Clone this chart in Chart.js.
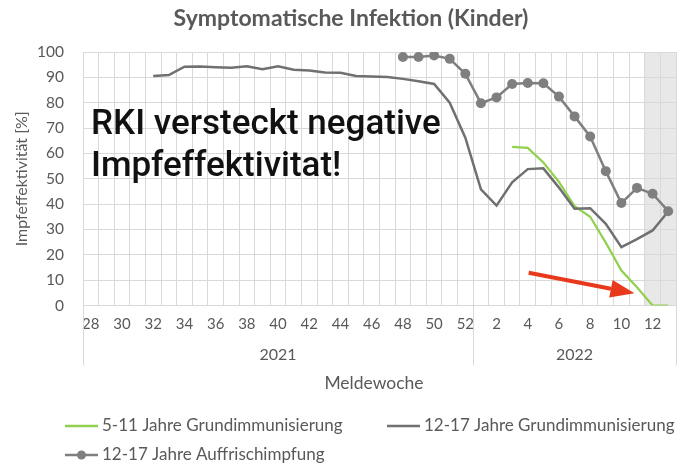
<!DOCTYPE html>
<html>
<head>
<meta charset="utf-8">
<script src="https://cdn.jsdelivr.net/npm/chart.js@4.4.0/dist/chart.umd.min.js"></script>
<style>
  html, body { margin: 0; padding: 0; background: #fff; }
  #wrap { width: 681px; height: 464px; position: relative; }
</style>
</head>
<body>
<div id="wrap"><canvas id="chart"></canvas></div>
<script>
// Meldewochen: 28-52 (2021), 1-13 (2022)
const weeks = [28, 29, 30, 31, 32, 33, 34, 35, 36, 37, 38, 39, 40, 41, 42, 43, 44, 45, 46, 47, 48, 49, 50, 51, 52,
               1, 2, 3, 4, 5, 6, 7, 8, 9, 10, 11, 12, 13];
const years = ['2021', '2022'];
const weeksPerYear = [25, 13];

const kids511Basic = [null, null, null, null, null, null, null, null, null, null, null, null, null, null, null, null, null, null, null, null, null, null, null, null, null,
                      null, null, 62.6, 62.2, 56.4, 48.8, 39.2, 35.0, 24.8, 13.8, 7.2, 0, 0];
const teens1217Basic = [null, null, null, null, 90.5, 90.9, 94.2, 94.3, 94.0, 93.8, 94.4, 93.2, 94.4, 93.0, 92.7, 91.9, 91.8, 90.5, 90.3, 90.1, 89.4, 88.5, 87.4, 80.0, 66.2,
                        45.8, 39.4, 48.6, 53.8, 54.1, 46.5, 38.2, 38.4, 32.2, 23.0, 26.2, 29.6, 37.1];
const teens1217Booster = [null, null, null, null, null, null, null, null, null, null, null, null, null, null, null, null, null, null, null, null, 98.0, 98.0, 98.6, 97.3, 91.4,
                          79.8, 82.1, 87.4, 87.8, 87.7, 82.4, 74.6, 66.7, 53.0, 40.4, 46.4, 44.1, 37.2];

const seriesNames = ['5-11 Jahre Grundimmunisierung', '12-17 Jahre Grundimmunisierung', '12-17 Jahre Auffrischimpfung'];
const yMin = 0, yMax = 100, yStep = 10;

const chartTitle = 'Symptomatische Infektion (Kinder)';
const yTitle = 'Impfeffektivität [%]';
const xTitle = 'Meldewoche';
const headline = ['RKI versteckt negative', 'Impfeffektivitat!'];

// shaded (incomplete) weeks, as category indices
const shadedFrom = 36, shadedTo = 37;
// red arrow in data space: [category index, value]
const arrowTail = [28.06, 12.9];
const arrowTip = [34.84, 4.8];

const TEXT = '#595959';
const GRID = '#d9d9d9';
const FONT = 'Lato, "Noto Sans", sans-serif';
const GREEN = '#92d050';
const DARK = '#707070';
const BOOST = '#7f7f7f';

const decor = {
  id: 'decor',
  beforeDraw(chart) {
    const { ctx, chartArea: a, scales: { x } } = chart;
    const half = (x.getPixelForValue(1) - x.getPixelForValue(0)) / 2;
    const x0 = x.getPixelForValue(shadedFrom) - half;
    const x1 = x.getPixelForValue(shadedTo) + half;
    ctx.save();
    ctx.fillStyle = '#e8e8e8';
    ctx.fillRect(x0, a.top, x1 - x0, a.bottom - a.top);
    ctx.restore();
  },
  afterDraw(chart) {
    const { ctx, chartArea: a, scales: { x, y } } = chart;
    const half = (x.getPixelForValue(1) - x.getPixelForValue(0)) / 2;
    ctx.save();

    // title
    ctx.fillStyle = TEXT;
    ctx.font = 'bold 23px ' + FONT;
    ctx.textAlign = 'center';
    ctx.textBaseline = 'middle';
    ctx.fillText(chartTitle, 351, 19);

    // year group labels + separators
    ctx.strokeStyle = GRID;
    ctx.lineWidth = 1;
    let start = 0;
    const edges = [x.getPixelForValue(0) - half];
    weeksPerYear.forEach((n, i) => {
      const l = x.getPixelForValue(start) - half;
      const r = x.getPixelForValue(start + n - 1) + half;
      edges.push(r);
      ctx.font = '16px ' + FONT;
      ctx.fillStyle = TEXT;
      ctx.fillText(years[i], (l + r) / 2, a.bottom + 49);
      start += n;
    });
    edges.forEach(e => {
      const px = Math.round(e) + 0.5;
      ctx.beginPath();
      ctx.moveTo(px, a.bottom);
      ctx.lineTo(px, a.bottom + 60);
      ctx.stroke();
    });

    // x axis title
    ctx.font = '17.5px ' + FONT;
    ctx.fillText(xTitle, 374, 383);

    // legend
    const items = [
      { name: seriesNames[0], color: GREEN, dot: false, lx: 65, ly: 426 },
      { name: seriesNames[1], color: DARK, dot: false, lx: 387, ly: 426 },
      { name: seriesNames[2], color: BOOST, dot: true, lx: 65, ly: 455 }
    ];
    ctx.textAlign = 'left';
    ctx.font = '17px ' + FONT;
    items.forEach(it => {
      ctx.strokeStyle = it.color;
      ctx.lineWidth = 2.5;
      ctx.beginPath();
      ctx.moveTo(it.lx, it.ly);
      ctx.lineTo(it.lx + 33, it.ly);
      ctx.stroke();
      if (it.dot) {
        ctx.fillStyle = it.color;
        ctx.beginPath();
        ctx.arc(it.lx + 16.5, it.ly, 4.5, 0, Math.PI * 2);
        ctx.fill();
      }
      ctx.fillStyle = TEXT;
      ctx.fillText(it.name, it.lx + 37, it.ly);
    });

    // headline
    ctx.fillStyle = '#111';
    ctx.font = '500 35px Roboto, "Liberation Sans", sans-serif';
    ctx.textBaseline = 'alphabetic';
    ctx.fillText(headline[0], 91, 134);
    ctx.fillText(headline[1], 91, 176);

    // red arrow
    const tx = x.getPixelForValue(arrowTail[0]), ty = y.getPixelForValue(arrowTail[1]);
    const hx = x.getPixelForValue(arrowTip[0]), hy = y.getPixelForValue(arrowTip[1]);
    const ang = Math.atan2(hy - ty, hx - tx);
    const headLen = 24, headW = 9;
    const bx = hx - headLen * Math.cos(ang), by = hy - headLen * Math.sin(ang);
    ctx.strokeStyle = '#e8391d';
    ctx.fillStyle = '#e8391d';
    ctx.lineWidth = 4;
    ctx.beginPath();
    ctx.moveTo(tx, ty);
    ctx.lineTo(bx, by);
    ctx.stroke();
    ctx.beginPath();
    ctx.moveTo(hx, hy);
    ctx.lineTo(bx + headW * Math.sin(ang), by - headW * Math.cos(ang));
    ctx.lineTo(bx - headW * Math.sin(ang), by + headW * Math.cos(ang));
    ctx.closePath();
    ctx.fill();

    ctx.restore();
  }
};

new Chart(document.getElementById('chart'), {
  type: 'line',
  data: {
    labels: weeks,
    datasets: [
      { label: seriesNames[0], data: kids511Basic, borderColor: GREEN, borderWidth: 2.25, pointRadius: 0, order: 3 },
      { label: seriesNames[1], data: teens1217Basic, borderColor: DARK, borderWidth: 2.5, pointRadius: 0, order: 2 },
      { label: seriesNames[2], data: teens1217Booster, borderColor: BOOST, backgroundColor: BOOST, borderWidth: 2.5,
        pointRadius: 5, pointBorderWidth: 0, pointBackgroundColor: BOOST, order: 1 }
    ]
  },
  options: {
    responsive: true,
    maintainAspectRatio: false,
    animation: false,
    layout: { padding: { top: 52, right: 1, left: 0, bottom: 128.5 } },
    plugins: {
      legend: { display: false },
      tooltip: { enabled: false }
    },
    scales: {
      x: {
        type: 'category',
        offset: true,
        grid: { offset: true, color: GRID, drawTicks: false },
        border: { color: GRID },
        ticks: {
          autoSkip: false, maxRotation: 0, padding: 10, color: TEXT,
          font: { family: FONT, size: 15 },
          callback: (v, i) => (weeks[i] % 2 === 0 ? String(weeks[i]) : '')
        },
        afterFit: s => { s.height = 30; }
      },
      y: {
        min: yMin, max: yMax,
        grid: { color: GRID, drawTicks: false },
        border: { color: GRID },
        ticks: { stepSize: yStep, padding: 19, color: TEXT, font: { family: FONT, size: 15.5 } },
        title: { display: true, text: yTitle, color: TEXT, font: { family: FONT, size: 16 }, padding: { top: 12, bottom: 0 } },
        afterFit: s => { s.width = 83; }
      }
    }
  },
  plugins: [decor]
});
</script>
</body>
</html>
